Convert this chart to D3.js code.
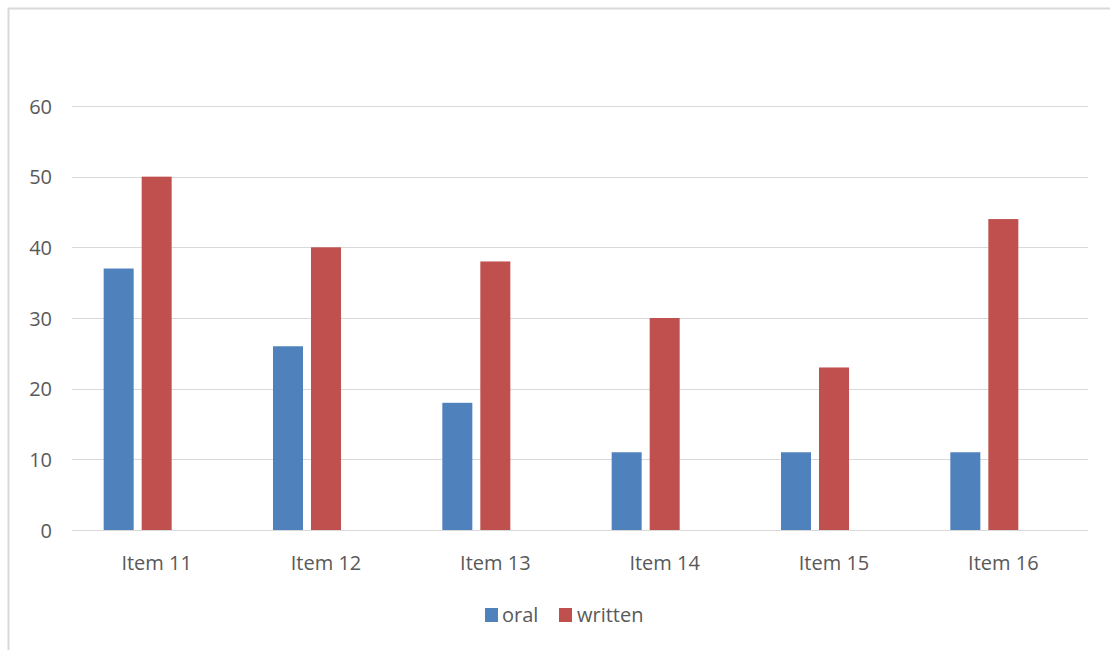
<!DOCTYPE html>
<html>
<head>
<meta charset="utf-8">
<script src="https://cdn.jsdelivr.net/npm/d3@7"></script>
<style>
  html, body { margin: 0; padding: 0; background: #fff; }
  svg { display: block; }
  text { font-family: "Open Sans", "Noto Sans", sans-serif; fill: #595959; }
</style>
</head>
<body>
<svg id="chart" width="1110" height="650"></svg>
<script>
// Responses per item, by mode
const categories = ["Item 11", "Item 12", "Item 13", "Item 14", "Item 15", "Item 16"];
const oralValues = [37, 26, 18, 11, 11, 11];
const writtenValues = [50, 40, 38, 30, 23, 44];
const yTicks = [0, 10, 20, 30, 40, 50, 60];
const seriesNames = ["oral", "written"];
const seriesColors = ["#4f81bd", "#c0504d"];

const svg = d3.select("#chart");
const W = 1110, H = 650;

// outer chart border
svg.append("rect")
  .attr("x", 8.5).attr("y", 8.5)
  .attr("width", W + 10).attr("height", H + 10)
  .attr("fill", "#fff").attr("stroke", "#d9d9d9").attr("stroke-width", 2);

const plot = { left: 72, right: 1088, top: 106, bottom: 530 };

const x = d3.scaleBand().domain(categories).range([plot.left, plot.right]).padding(0);
const y = d3.scaleLinear().domain([0, 60]).range([plot.bottom, plot.top]);

// three slots per category (third slot left empty), as in the clustered layout
const slot = d3.scaleBand().domain([0, 1, 2]).range([0, x.bandwidth()])
  .paddingInner(0.2105).paddingOuter(0.833);

// gridlines
svg.append("g").selectAll("line").data(yTicks).join("line")
  .attr("x1", plot.left).attr("x2", plot.right)
  .attr("y1", d => Math.round(y(d)) + 0.5).attr("y2", d => Math.round(y(d)) + 0.5)
  .attr("stroke", "#d9d9d9").attr("stroke-width", 1);

// y labels
svg.append("g").selectAll("text").data(yTicks).join("text")
  .attr("x", 52).attr("y", d => y(d))
  .attr("text-anchor", "end").attr("dominant-baseline", "central")
  .attr("font-size", 20)
  .text(d => d);

// bars
const series = [oralValues, writtenValues];
series.forEach((vals, si) => {
  svg.append("g").selectAll("rect").data(categories).join("rect")
    .attr("x", (c) => x(c) + slot(si))
    .attr("width", slot.bandwidth())
    .attr("y", (c, i) => y(vals[i]))
    .attr("height", (c, i) => y(0) - y(vals[i]))
    .attr("fill", seriesColors[si]);
});

// category labels
svg.append("g").selectAll("text").data(categories).join("text")
  .attr("x", c => x(c) + x.bandwidth() / 2)
  .attr("y", 562)
  .attr("text-anchor", "middle").attr("dominant-baseline", "central")
  .attr("font-size", 20)
  .text(c => c);

// legend
const legendItems = [
  { name: seriesNames[0], color: seriesColors[0], sx: 485, tx: 502 },
  { name: seriesNames[1], color: seriesColors[1], sx: 559, tx: 577 }
];
const lg = svg.append("g");
legendItems.forEach(it => {
  lg.append("rect").attr("x", it.sx).attr("y", 608).attr("width", 13).attr("height", 14).attr("fill", it.color);
  lg.append("text").attr("x", it.tx).attr("y", 614)
    .attr("dominant-baseline", "central").attr("font-size", 20).text(it.name);
});
</script>
</body>
</html>
